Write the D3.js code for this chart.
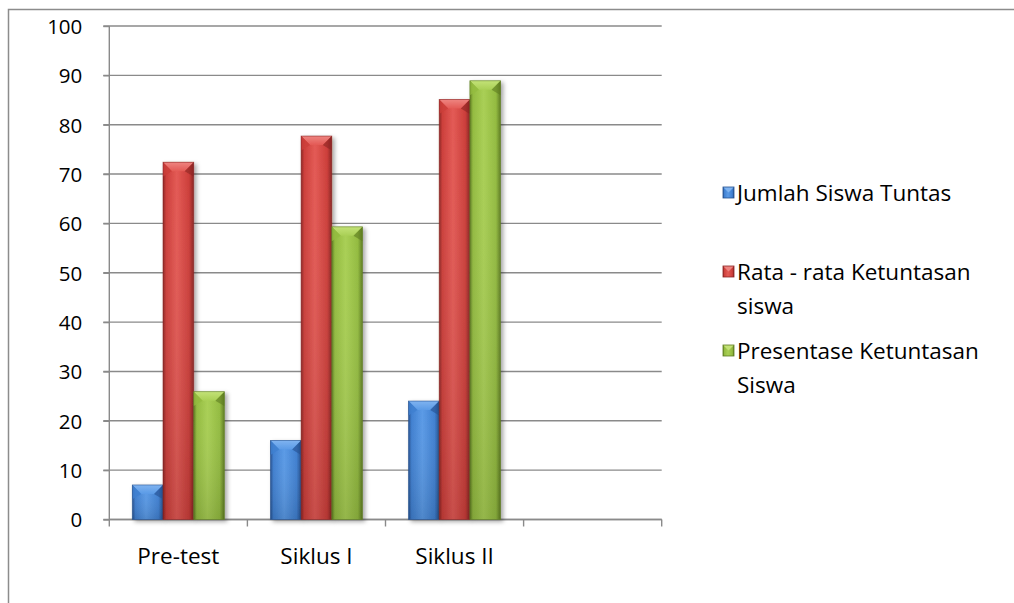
<!DOCTYPE html>
<html>
<head>
<meta charset="utf-8">
<script src="https://cdn.jsdelivr.net/npm/d3@7"></script>
<style>
  html, body { margin: 0; padding: 0; background: #fff; }
  svg { display: block; }
  text { font-family: "Open Sans", Lato, sans-serif; fill: #000; }
</style>
</head>
<body>
<svg id="chart" width="1014" height="603"></svg>
<script>
const categories = ["Pre-test", "Siklus I", "Siklus II", ""];
const seriesNames = ["Jumlah Siswa Tuntas", "Rata - rata Ketuntasan siswa", "Presentase Ketuntasan Siswa"];
const jumlahSiswaTuntas = [7, 16, 24];
const rataRataKetuntasan = [72.4, 77.7, 85.1];
const presentaseKetuntasan = [25.9, 59.3, 88.9];
const yTicks = [0, 10, 20, 30, 40, 50, 60, 70, 80, 90, 100];
const legendLines = [["Jumlah Siswa Tuntas"], ["Rata - rata Ketuntasan", "siswa"], ["Presentase Ketuntasan", "Siswa"]];

const seriesValues = [jumlahSiswaTuntas, rataRataKetuntasan, presentaseKetuntasan];
const palette = [
  { light: "#5a9ae6", mid: "#3f7fd0", dark: "#24508f", top: "#7fb3f0" },
  { light: "#e35a55", mid: "#cc3e3a", dark: "#8a2523", top: "#ee8480" },
  { light: "#a9cf55", mid: "#93bb40", dark: "#5e7c22", top: "#c3e277" }
];
const YFONT = 20.5, FONT = 22.5;

const svg = d3.select("#chart");
const defs = svg.append("defs");

const shadow = defs.append("filter").attr("id", "shadow")
  .attr("x", "-20%").attr("y", "-10%").attr("width", "150%").attr("height", "130%");
shadow.append("feDropShadow").attr("dx", 2.5).attr("dy", 2).attr("stdDeviation", 2)
  .attr("flood-color", "#000").attr("flood-opacity", 0.35);

palette.forEach((p, i) => {
  const g = defs.append("linearGradient").attr("id", "body" + i)
    .attr("x1", "0").attr("x2", "1").attr("y1", "0").attr("y2", "0");
  g.append("stop").attr("offset", "0%").attr("stop-color", p.dark);
  g.append("stop").attr("offset", "10%").attr("stop-color", p.mid);
  g.append("stop").attr("offset", "45%").attr("stop-color", p.light);
  g.append("stop").attr("offset", "85%").attr("stop-color", p.mid);
  g.append("stop").attr("offset", "100%").attr("stop-color", p.dark);
  const t = defs.append("linearGradient").attr("id", "top" + i)
    .attr("x1", "0").attr("x2", "0").attr("y1", "0").attr("y2", "1");
  t.append("stop").attr("offset", "0%").attr("stop-color", p.top);
  t.append("stop").attr("offset", "100%").attr("stop-color", p.light);
  const v = defs.append("linearGradient").attr("id", "vert" + i)
    .attr("x1", "0").attr("x2", "0").attr("y1", "0").attr("y2", "1");
  v.append("stop").attr("offset", "0%").attr("stop-color", "#fff").attr("stop-opacity", 0);
  v.append("stop").attr("offset", "100%").attr("stop-color", "#000").attr("stop-opacity", 0.12);
});

// outer chart border
svg.append("rect").attr("x", 8.5).attr("y", 9.5).attr("width", 1200).attr("height", 800)
  .attr("fill", "none").attr("stroke", "#8c8c8c").attr("stroke-width", 1.5);

const x0 = 109.3, x1 = 661.7, yTop = 26, yBot = 519.5;
const x = d3.scaleBand().domain(categories.map((c, i) => i)).range([x0, x1]).paddingInner(0).paddingOuter(0);
const y = d3.scaleLinear().domain([0, 100]).range([yBot, yTop]);
const barW = x.bandwidth() / 4.5;
const gap = (x.bandwidth() - 3 * barW) / 2;

// gridlines
const grid = svg.append("g");
grid.selectAll("line").data(yTicks).join("line")
  .attr("x1", x0 - 6).attr("x2", x1)
  .attr("y1", d => y(d)).attr("y2", d => y(d))
  .attr("stroke", "#8a8a8a").attr("stroke-width", 1.4);

// y axis
const yAxis = svg.append("g").attr("transform", `translate(${x0},0)`)
  .call(d3.axisLeft(y).tickValues(yTicks).tickSize(6).tickPadding(21).tickFormat(d3.format("d")));
yAxis.select(".domain").attr("stroke", "#8a8a8a").attr("stroke-width", 1.4).attr("d", `M0,${yTop}V${yBot}`);
yAxis.selectAll(".tick line").attr("stroke", "#8a8a8a").attr("stroke-width", 1.4);
yAxis.selectAll(".tick text").attr("font-size", YFONT).attr("fill", "#000").attr("dy", "0.36em")
  .style("font-family", "'Open Sans', Lato, sans-serif");

// x axis
const xAxis = svg.append("g").attr("transform", `translate(0,${yBot})`);
xAxis.append("line").attr("x1", x0).attr("x2", x1).attr("y1", 0).attr("y2", 0)
  .attr("stroke", "#8a8a8a").attr("stroke-width", 1.4);
const bounds = categories.map((c, i) => x(i)).concat([x(categories.length - 1) + x.bandwidth()]);
xAxis.selectAll("line.tk").data(bounds).join("line").attr("class", "tk")
  .attr("x1", d => d).attr("x2", d => d).attr("y1", 0).attr("y2", 7)
  .attr("stroke", "#8a8a8a").attr("stroke-width", 1.4);
xAxis.selectAll("text").data(categories).join("text")
  .attr("x", (d, i) => x(i) + x.bandwidth() / 2).attr("y", 44)
  .attr("text-anchor", "middle").attr("font-size", FONT).text(d => d);

// bars
const barsG = svg.append("g");
seriesValues.forEach((vals, s) => {
  vals.forEach((v, i) => {
    const bx = x(i) + gap + s * barW;
    const by = y(v);
    const h = yBot - by;
    const w = barW;
    const b = Math.min(9, h / 2);
    const g = barsG.append("g").attr("filter", "url(#shadow)");
    g.append("rect").attr("x", bx).attr("y", by).attr("width", w).attr("height", h)
      .attr("fill", `url(#body${s})`);
    g.append("rect").attr("x", bx).attr("y", by).attr("width", w).attr("height", h)
      .attr("fill", `url(#vert${s})`);
    g.append("path")
      .attr("d", `M${bx},${by}L${bx + w},${by}L${bx + w - b},${by + b}L${bx + b},${by + b}Z`)
      .attr("fill", `url(#top${s})`);
    g.append("path")
      .attr("d", `M${bx},${by}L${bx + b},${by + b}L${bx},${by + b * 1.6}Z`)
      .attr("fill", palette[s].mid).attr("opacity", 0.8);
    g.append("path")
      .attr("d", `M${bx + w},${by}L${bx + w - b},${by + b}L${bx + w},${by + b * 1.6}Z`)
      .attr("fill", palette[s].dark).attr("opacity", 0.6);
    g.append("rect").attr("x", bx).attr("y", by).attr("width", w).attr("height", h)
      .attr("fill", "none").attr("stroke", palette[s].dark).attr("stroke-width", 0.8).attr("stroke-opacity", 0.7);
  });
});

// legend
const legY = [193, 272, 351];
const leg = svg.append("g");
legendLines.forEach((lines, s) => {
  const ly = legY[s];
  const mx = 723, my = ly - 6, ms = 11;
  const lg = leg.append("g");
  lg.append("rect").attr("x", mx).attr("y", my).attr("width", ms).attr("height", ms)
    .attr("fill", `url(#body${s})`);
  lg.append("path")
    .attr("d", `M${mx},${my}L${mx + ms},${my}L${mx + ms / 2},${my + ms / 2}Z`)
    .attr("fill", palette[s].top);
  lg.append("rect").attr("x", mx).attr("y", my).attr("width", ms).attr("height", ms)
    .attr("fill", "none").attr("stroke", palette[s].dark).attr("stroke-width", 0.8);
  lines.forEach((t, k) => {
    lg.append("text").attr("x", 737).attr("y", ly + k * 34).attr("dy", "0.36em")
      .attr("font-size", FONT).text(t);
  });
});
</script>
</body>
</html>
